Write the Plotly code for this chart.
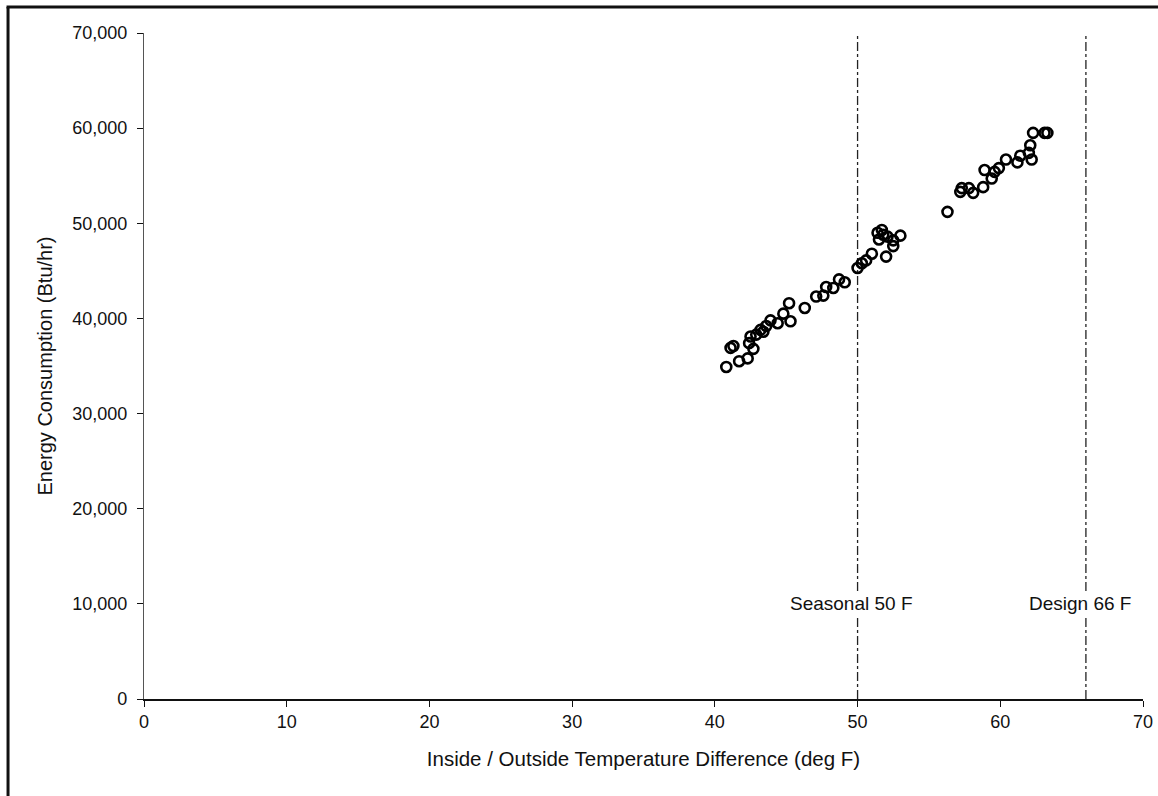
import plotly.graph_objects as go

# Measured hourly points: temperature difference (deg F) vs. energy use (Btu/hr)
temp_diff = [
    40.8, 41.1, 41.3, 41.7, 42.3, 42.4, 42.5, 42.7, 42.9, 43.2, 43.4, 43.6,
    43.9, 44.4, 44.8, 45.2, 45.3, 46.3, 47.1, 47.6, 47.8, 48.3, 48.7, 49.1,
    50.0, 50.3, 50.6, 51.0, 51.4, 51.7, 51.5, 51.8, 52.1, 52.5, 52.5, 53.0,
    52.0, 56.3, 57.2, 57.3, 57.8, 58.1, 58.8, 58.9, 59.4, 59.6, 59.9, 60.4,
    61.2, 61.4, 62.0, 62.1, 62.2, 62.3, 63.1, 63.3,
]
energy_btu = [
    34900, 36900, 37100, 35500, 35800, 37400, 38100, 36800, 38300, 38800, 38600, 39200,
    39800, 39500, 40500, 41600, 39700, 41100, 42300, 42400, 43300, 43200, 44100, 43800,
    45300, 45800, 46100, 46800, 49000, 49300, 48300, 48800, 48600, 48200, 47600, 48700,
    46500, 51200, 53300, 53700, 53700, 53200, 53800, 55600, 54700, 55400, 55800, 56700,
    56400, 57100, 57400, 58200, 56700, 59500, 59500, 59500,
]

# Reference temperature differences
ref_temps = [50, 66]
ref_labels = ["Seasonal 50 F", "Design 66 F"]

x_ticks = [0, 10, 20, 30, 40, 50, 60, 70]
y_ticks = [0, 10000, 20000, 30000, 40000, 50000, 60000, 70000]

FONT = "Liberation Sans, Arial, Helvetica, sans-serif"
INK = "#111111"

fig = go.Figure()

for t in ref_temps:
    fig.add_trace(go.Scatter(
        x=[t, t], y=[0, 71300], mode="lines",
        line=dict(color="#222222", width=1.3, dash="dashdot"),
        hoverinfo="skip", showlegend=False, cliponaxis=False,
    ))

fig.add_trace(go.Scatter(
    x=temp_diff, y=energy_btu, mode="markers",
    marker=dict(symbol="circle-open", size=10, color="black", line=dict(width=2.6, color="black")),
    showlegend=False,
))

annotations = []
for t, lab in zip(ref_temps, ref_labels):
    annotations.append(dict(
        x=t - 0.4, y=10000, xref="x", yref="y", text=lab, showarrow=False,
        font=dict(family=FONT, size=19, color=INK), bgcolor="white",
        borderpad=1,
    ))

fig.update_layout(
    width=1158, height=796,
    margin=dict(l=144, r=15, t=33, b=97),
    paper_bgcolor="white", plot_bgcolor="white",
    font=dict(family=FONT, size=18, color=INK),
    annotations=annotations,
    shapes=[
        dict(type="line", xref="paper", yref="paper", x0=-0.1361, x1=-0.1361, y0=1.039, y1=-0.1456,
             line=dict(color=INK, width=3)),
        dict(type="line", xref="paper", yref="paper", x0=-0.1376, x1=1.02, y0=1.039, y1=1.039,
             line=dict(color=INK, width=3)),
    ],
    xaxis=dict(
        range=[0, 70], tickvals=x_ticks, ticktext=[str(v) for v in x_ticks],
        automargin=False,
        showgrid=False, zeroline=False, showline=True, linecolor=INK, linewidth=1.5,
        ticks="outside", ticklen=6, tickcolor=INK, tickwidth=1.3,
        tickfont=dict(family=FONT, size=18, color=INK),
        title=dict(text="Inside / Outside Temperature Difference (deg F)",
                   font=dict(family=FONT, size=20.5, color=INK), standoff=20),
    ),
    yaxis=dict(
        range=[0, 70000], tickvals=y_ticks, ticktext=[f"{v:,}" for v in y_ticks],
        automargin=False,
        showgrid=False, zeroline=False, showline=True, linecolor="#555555", linewidth=1.2,
        ticks="outside", ticklen=6, tickcolor=INK, tickwidth=1.3,
        tickfont=dict(family=FONT, size=18, color=INK),
        ticklabelstandoff=6,
        title=dict(text="Energy Consumption (Btu/hr)",
                   font=dict(family=FONT, size=20, color=INK), standoff=14),
    ),
)

fig.write_html("out.html")
